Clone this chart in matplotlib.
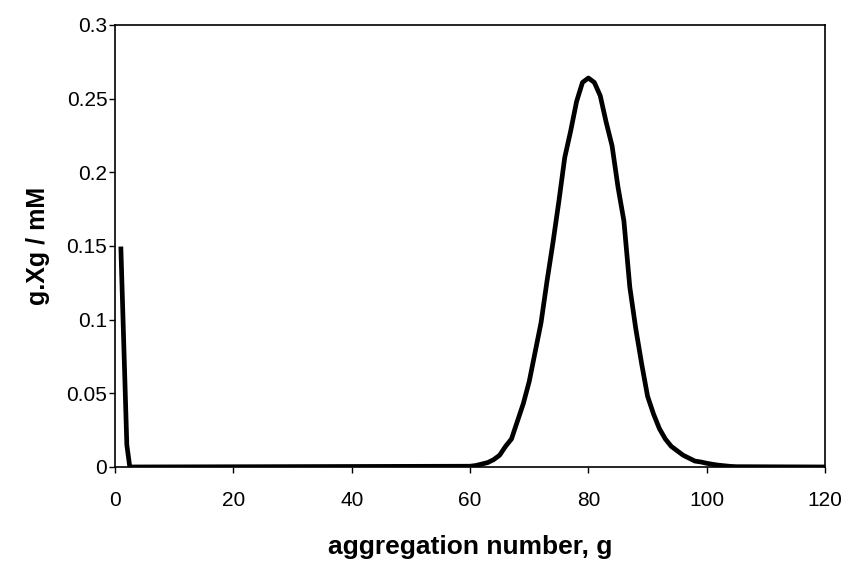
import matplotlib
matplotlib.use("Agg")
import matplotlib.pyplot as plt

# distribucion de agregados
g = [1, 2, 2.5, 60, 61, 62, 63, 64, 65, 66, 67, 68, 69, 70, 71, 72, 73, 74, 75,
     76, 77, 78, 79, 80, 81, 82, 83, 84, 85, 86, 87, 88, 89, 90, 91, 92, 93,
     94, 95, 96, 97, 98, 99, 100, 101, 102, 103, 104, 105, 120]
gXg = [0.148, 0.015, 0.0, 0.0005, 0.001, 0.002, 0.003, 0.005, 0.008, 0.014,
       0.019, 0.031, 0.043, 0.058, 0.078, 0.098, 0.126, 0.152, 0.180, 0.210,
       0.228, 0.248, 0.261, 0.264, 0.261, 0.252, 0.234, 0.218, 0.190, 0.167,
       0.122, 0.094, 0.070, 0.048, 0.036, 0.026, 0.019, 0.014, 0.011, 0.008,
       0.006, 0.004, 0.0034, 0.0025, 0.0018, 0.0012, 0.0008, 0.0004, 0.0002, 0.0]

xticks = [0, 20, 40, 60, 80, 100, 120]
yticks = [0, 0.05, 0.1, 0.15, 0.2, 0.25, 0.3]
ylabels = ['0', '0.05', '0.1', '0.15', '0.2', '0.25', '0.3']

plt.rcParams['font.family'] = ['Liberation Sans', 'DejaVu Sans']

fig = plt.figure(figsize=(8.48, 5.65), dpi=100)
ax = fig.add_axes([0.1356, 0.1735, 0.973 - 0.1356, 0.9558 - 0.1735])
ax.plot(g, gXg, color='black', linewidth=3.4, solid_joinstyle='round')

ax.set_xlim(0, 120)
ax.set_ylim(0, 0.3)
ax.set_xticks(xticks)
ax.set_yticks(yticks)
ax.set_yticklabels(ylabels)
ax.tick_params(direction='out', length=4, width=1, labelsize=15)
ax.tick_params(axis='x', pad=13)
ax.tick_params(axis='y', pad=1.5)
for s in ax.spines.values():
    s.set_linewidth(1.2)

ax.set_xlabel('aggregation number, g', fontsize=19, fontweight='bold', labelpad=18)
ax.set_ylabel('g.Xg / mM', fontsize=18, fontweight='bold', labelpad=12)

fig.savefig('out.png', dpi=100)
